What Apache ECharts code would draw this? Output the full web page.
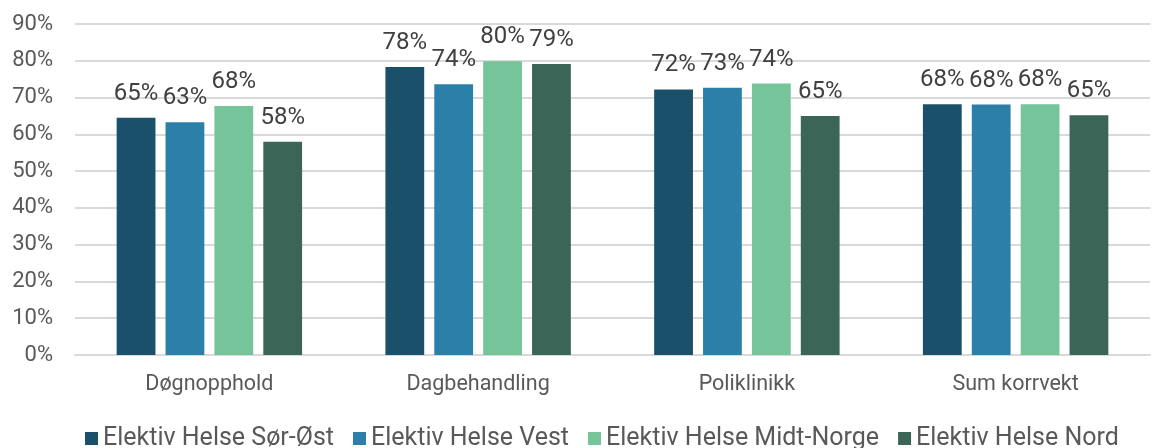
<!DOCTYPE html>
<html>
<head>
<meta charset="utf-8">
<script src="https://cdn.jsdelivr.net/npm/echarts@6/dist/echarts.min.js"></script>
<style>
  html, body { margin: 0; padding: 0; background: #fff; }
  #chart { width: 1157px; height: 448px; }
</style>
</head>
<body>
<div id="chart"></div>
<script>
const categories = ['Døgnopphold', 'Dagbehandling', 'Poliklinikk', 'Sum korrvekt']
const seriesNames = ['Elektiv Helse Sør-Øst', 'Elektiv Helse Vest', 'Elektiv Helse Midt-Norge', 'Elektiv Helse Nord']
const colors = ['#1b506b', '#2b7fa8', '#75c49a', '#3b6657']

const sorOst = [64.5, 78.3, 72.2, 68.2]
const vest = [63.3, 73.6, 72.7, 68.1]
const midtNorge = [67.7, 79.9, 73.8, 68.2]
const nord = [58.0, 79.1, 65.0, 65.2]

const values = [sorOst, vest, midtNorge, nord]

const chart = echarts.init(document.getElementById('chart'))

const font = 'Roboto, "Noto Sans", sans-serif'

chart.setOption({
  animation: false,
  color: colors,
  grid: { left: 75, right: 7, top: 24, bottom: 93 },
  legend: {
    top: 421,
    left: 80,
    itemWidth: 13,
    itemHeight: 13,
    itemGap: 19,
    icon: 'rect',
    textStyle: { color: '#595959', fontSize: 25, fontFamily: font },
    data: seriesNames
  },
  xAxis: {
    type: 'category',
    data: categories,
    axisLine: { lineStyle: { color: '#d9d9d9', width: 2 } },
    axisTick: { show: false },
    axisLabel: { color: '#595959', fontSize: 21.5, fontFamily: font, margin: 19 }
  },
  yAxis: {
    type: 'value',
    min: 0,
    max: 90,
    interval: 10,
    axisLine: { show: false },
    axisTick: { show: false },
    splitLine: { lineStyle: { color: '#d9d9d9', width: 2 } },
    axisLabel: { color: '#595959', fontSize: 22, fontFamily: font, margin: 22, formatter: '{value}%' }
  },
  series: values.map((data, i) => ({
    name: seriesNames[i],
    type: 'bar',
    data: data,
    barGap: '26%',
    barCategoryGap: '31%',
    label: {
      show: true,
      position: 'top',
      distance: 12,
      color: '#404040',
      fontSize: 24,
      fontFamily: font,
      formatter: p => Math.round(p.value) + '%'
    }
  }))
})
</script>
</body>
</html>
